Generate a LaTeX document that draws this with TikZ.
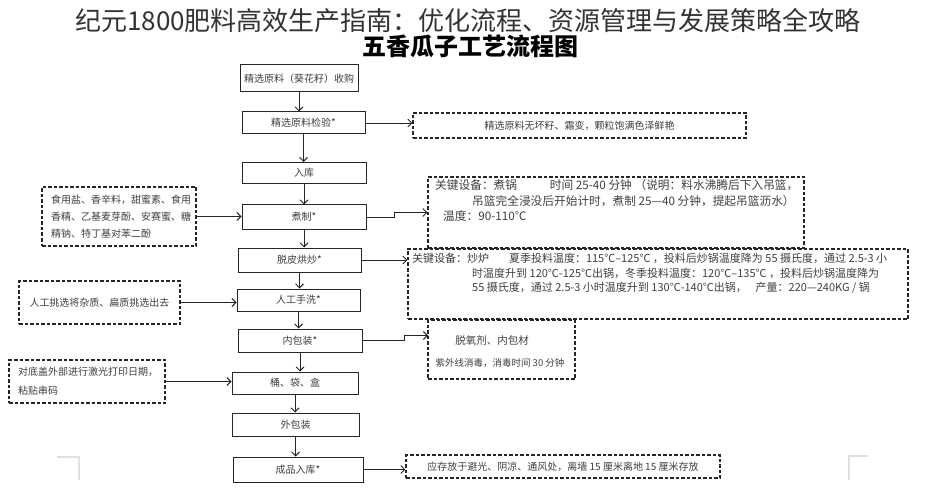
\documentclass[tikz,border=0pt]{standalone}
\usepackage{fontspec}
\setmainfont{Noto Sans CJK SC}
\usetikzlibrary{arrows.meta}

\tikzset{
  stepbox/.style={draw=black!85, line width=1pt, inner sep=0pt, text=black!75, font=\fontsize{10}{12}\selectfont},
  notebox/.style={draw=black!85, line width=1.1pt, dash pattern=on 3.5pt off 2pt, inner sep=0pt, text=black!75, font=\fontsize{10}{12}\selectfont},
  notetext/.style={anchor=west, inner sep=0pt, text=black!75, font=\fontsize{10}{12}\selectfont},
  arr/.style={-{Straight Barb[length=4pt,width=8pt]}, line width=0.9pt, draw=black!85},
}

\begin{document}
\begin{tikzpicture}[x=1pt, y=-1pt]
\useasboundingbox[fill=white] (0,0) rectangle (935,500);

% title
\node[text=black!80, font=\fontsize{26}{26}\selectfont] (title) at (468,21) {纪元1800肥料高效生产指南：优化流程、资源管理与发展策略全攻略};
\node[font=\fontsize{24}{24}\selectfont\bfseries] (sub) at (470,46) {五香瓜子工艺流程图};

% main steps
\node[stepbox, minimum width=118pt, minimum height=27pt] (buy) at (299,78.5) {精选原料（葵花籽）收购};
\node[stepbox, minimum width=123pt, minimum height=22pt] (check) at (303.5,123) {精选原料检验*};
\node[stepbox, minimum width=124pt, minimum height=21pt] (store) at (304,173) {入库};
\node[stepbox, minimum width=124pt, minimum height=24pt] (cook) at (304,217) {煮制*};
\node[stepbox, minimum width=123pt, minimum height=24pt] (roast) at (299.5,260) {脱皮烘炒*};
\node[stepbox, minimum width=123pt, minimum height=22pt] (wash) at (298.5,300) {人工手洗*};
\node[stepbox, minimum width=124pt, minimum height=23pt] (inner) at (300,340.5) {内包装*};
\node[stepbox, minimum width=126pt, minimum height=22pt] (pack) at (295,383) {桶、袋、盒};
\node[stepbox, minimum width=127pt, minimum height=23pt] (outer) at (295.5,424.5) {外包装};
\node[stepbox, minimum width=130pt, minimum height=25pt] (stock) at (298,469.5) {成品入库*};

% notes left
\node[notebox, minimum width=154pt, minimum height=59pt] (spice) at (119,216.5) {};
\node[notetext] (spice1) at (51,200) {食用盐、香辛料，甜蜜素、食用};
\node[notetext] (spice2) at (51,217) {香精、乙基麦芽酚、安赛蜜、糖};
\node[notetext] (spice3) at (51,234) {精钠、特丁基对苯二酚};
\node[notebox, minimum width=161pt, minimum height=43pt] (pick) at (99.5,302.5) {人工挑选将杂质、扁质挑选出去};
\node[notebox, minimum width=156pt, minimum height=43pt] (print) at (87,381.5) {};
\node[notetext] (print1) at (18,372) {对底盖外部进行激光打印日期，};
\node[notetext] (print2) at (18,391) {粘贴串码};

% notes right
\node[notebox, minimum width=333pt, minimum height=25pt] (seed) at (579.5,125.5) {精选原料无坏籽、霜变，颗粒饱满色泽鲜艳};
\node[notebox, minimum width=376pt, minimum height=71pt] (pot) at (616,212.5) {};
\node[notetext, font=\fontsize{11.7}{14}\selectfont] (pot1) at (435,185) {关键设备：煮锅\hspace*{2.8em}时间 25-40 分钟 （说明：料水沸腾后下入吊篮，};
\node[notetext, font=\fontsize{11.7}{14}\selectfont] (pot2) at (472,201) {吊篮完全浸没后开始计时，煮制 25—40 分钟，提起吊篮沥水）};
\node[notetext, font=\fontsize{11.7}{14}\selectfont] (pot3) at (443,216) {温度：90-110℃};
\node[notebox, minimum width=500pt, minimum height=70pt] (stove) at (658,284) {};
\node[notetext, font=\fontsize{11}{13}\selectfont] (stove1) at (412,258) {关键设备：炒炉\hspace*{1.8em}夏季投料温度：115℃--125℃ ，投料后炒锅温度降为 55 摄氏度，通过 2.5-3 小};
\node[notetext, font=\fontsize{11}{13}\selectfont] (stove2) at (472,273) {时温度升到 120℃-125℃出锅，冬季投料温度：120℃--135℃ ，投料后炒锅温度降为};
\node[notetext, font=\fontsize{11}{13}\selectfont] (stove3) at (472,287.5) {55 摄氏度，通过 2.5-3 小时温度升到 130℃-140℃出锅，\hspace*{0.8em}产量：220—240KG / 锅};
\node[notebox, minimum width=147pt, minimum height=59pt] (wrap) at (501.5,349.5) {};
\node[inner sep=0pt, text=black!75, font=\fontsize{10.5}{13}\selectfont] (wrap1) at (492,340) {脱氧剂、内包材};
\node[inner sep=0pt, text=black!75, font=\fontsize{9.5}{11}\selectfont] (wrap2) at (500,363) {紫外线消毒，消毒时间 30 分钟};
\coordinate (wrapin) at (428,335.5);
\node[notebox, minimum width=314pt, minimum height=23pt] (keep) at (563,466.5) {应存放于避光、阴凉、通风处，离墙 15 厘米离地 15 厘米存放};

% flow
\foreach \a/\b in {buy/check, check/store, store/cook, cook/roast, roast/wash, wash/inner, inner/pack, pack/outer, outer/stock}
  \draw[arr] (\a.south) -- (\a.south |- \b.north);

% side arrows
\draw[arr] (check.east) -- (check.east -| seed.west);
\draw[arr] (spice.east) -- (spice.east -| cook.west);
\draw[arr] (cook.east) -- ++(28,0) |- (pot.west);
\draw[arr] (roast.east) -- (roast.east -| stove.west);
\draw[arr] (pick.east) -- (pick.east -| wash.west);
\draw[arr] (inner.east) -- ++(42,0) |- (wrapin);
\draw[arr] (print.east) -- (print.east -| pack.west);
\draw[arr] (stock.east) -- (stock.east -| keep.west);

% page corners
\draw[black!12, line width=1.5pt] (57,457) -- (79,457) -- (79,480);
\draw[black!12, line width=1.5pt] (868,456) -- (849,456) -- (849,480);

\end{tikzpicture}
\end{document}
